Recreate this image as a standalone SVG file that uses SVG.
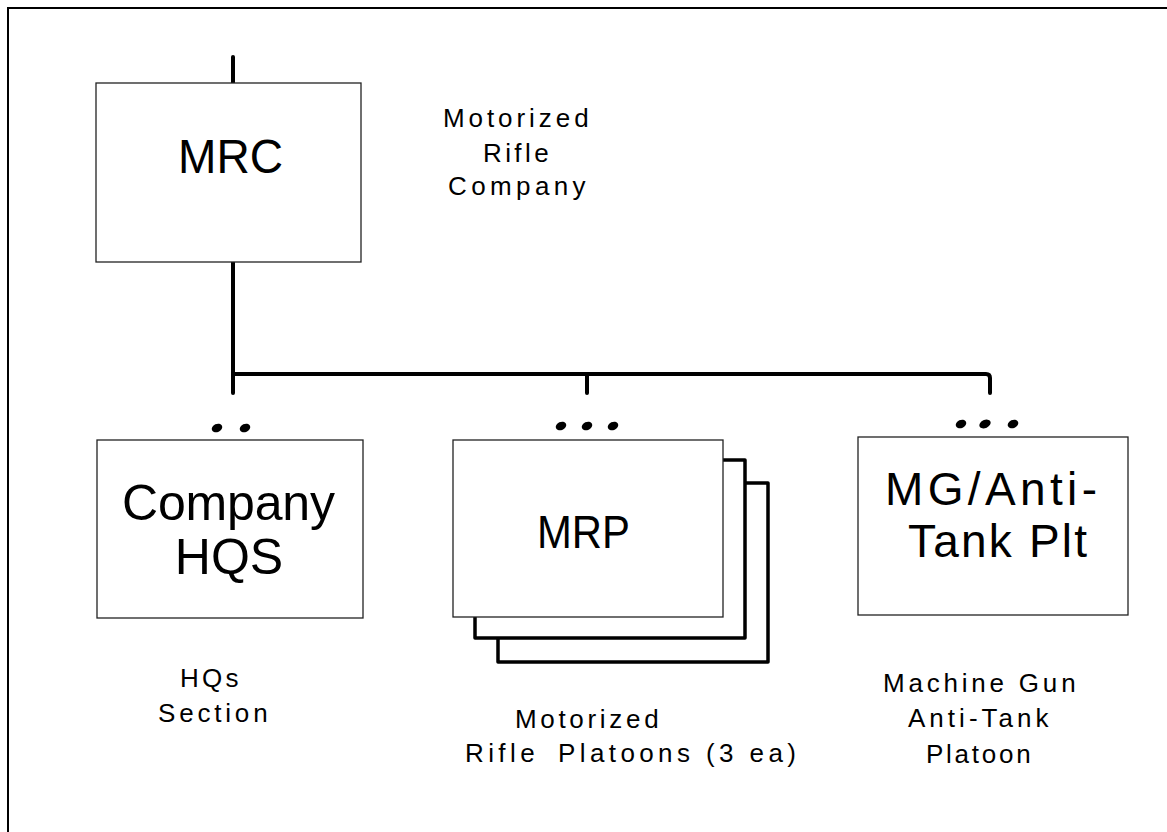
<svg xmlns="http://www.w3.org/2000/svg" width="1167" height="832" viewBox="0 0 1167 832">
<style>
.box{fill:#fff;stroke:#222;stroke-width:1.3}
.conn{fill:none;stroke:#000;stroke-width:4;stroke-linecap:round;stroke-linejoin:round}
.stack{fill:none;stroke:#000;stroke-width:3.5;stroke-linejoin:round}
.big{font-family:"Liberation Sans",Arial,sans-serif;font-size:48px;fill:#000}
.small{font-family:"Liberation Sans",Arial,sans-serif;font-size:26px;fill:#000;letter-spacing:4.4px}
.dot{fill:#000}
.frame{fill:none;stroke:#000;stroke-width:2}
</style>
<rect width="1167" height="832" fill="#fff"/>
<path class="frame" d="M8,832 V8 H1167"/>
<g id="connectors">
<path class="conn" d="M233,57 V83"/>
<path class="conn" d="M233,262 V393"/>
<path class="conn" d="M233,374 H986 Q990,374 990,378 V393"/>
<path class="conn" d="M587,374 V393"/>
</g>
<g id="mrc">
<rect class="box" x="96" y="83" width="265" height="179"/>
<text class="big" x="178" y="173" textLength="105" lengthAdjust="spacingAndGlyphs">MRC</text>
</g>
<g id="mrc-label">
<text class="small" x="443" y="127" textLength="150">Motorized</text>
<text class="small" x="483" y="162" textLength="70">Rifle</text>
<text class="small" x="448" y="195" textLength="142">Company</text>
</g>
<g id="hqs">
<ellipse class="dot" cx="217" cy="428" rx="5.5" ry="4" transform="rotate(-25 217 428)"/>
<ellipse class="dot" cx="245" cy="428" rx="5.5" ry="4" transform="rotate(-25 245 428)"/>
<rect class="box" x="97" y="440" width="266" height="178"/>
<text class="big" x="122" y="520" style="font-size:50px" textLength="213">Company</text>
<text class="big" x="229" y="574" text-anchor="middle" style="font-size:50px">HQS</text>
</g>
<g id="hqs-label">
<text class="small" x="180" y="687" textLength="63">HQs</text>
<text class="small" x="158" y="722" textLength="114">Section</text>
</g>
<g id="mrp">
<ellipse class="dot" cx="561" cy="426" rx="5.5" ry="4" transform="rotate(-25 561 426)"/>
<ellipse class="dot" cx="587" cy="426" rx="5.5" ry="4" transform="rotate(-25 587 426)"/>
<ellipse class="dot" cx="613" cy="426" rx="5.5" ry="4" transform="rotate(-25 613 426)"/>
<path class="stack" d="M498,638 V662 H768 V483 H745"/>
<path class="stack" d="M475,617 V638 H745 V460 H723"/>
<rect class="box" x="453" y="440" width="270" height="177"/>
<text class="big" x="537" y="548" style="font-size:46px" textLength="93" lengthAdjust="spacingAndGlyphs">MRP</text>
</g>
<g id="mrp-label">
<text class="small" x="515" y="728" textLength="148">Motorized</text>
<text class="small" y="762"><tspan x="465">Rifle</tspan><tspan x="558">Platoons (3 ea)</tspan></text>
</g>
<g id="mgat">
<ellipse class="dot" cx="961" cy="424" rx="5.5" ry="4" transform="rotate(-25 961 424)"/>
<ellipse class="dot" cx="985" cy="424" rx="6" ry="4" transform="rotate(-25 985 424)"/>
<ellipse class="dot" cx="1013" cy="424" rx="5.5" ry="4" transform="rotate(-25 1013 424)"/>
<rect class="box" x="858" y="437" width="270" height="178"/>
<text class="big" x="885" y="505" style="font-size:46px" textLength="212">MG/Anti-</text>
<text class="big" x="908" y="557" style="font-size:46px" textLength="179">Tank Plt</text>
</g>
<g id="mgat-label">
<text class="small" x="883" y="692" textLength="197">Machine Gun</text>
<text class="small" x="908" y="727" textLength="145">Anti-Tank</text>
<text class="small" x="926" y="763" textLength="109">Platoon</text>
</g>
</svg>
